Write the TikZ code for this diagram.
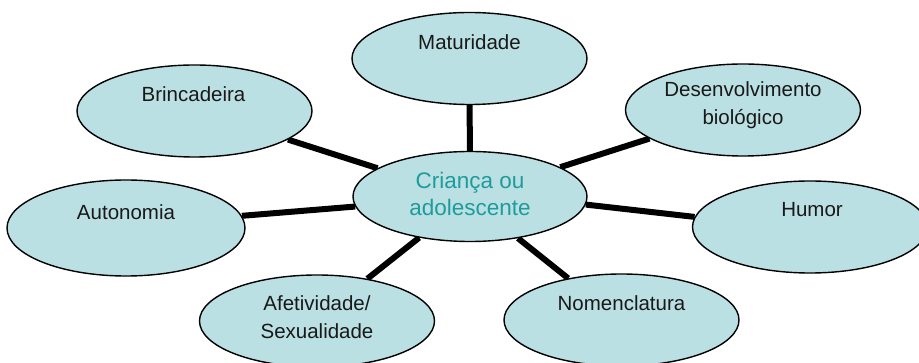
\documentclass[tikz,border=0pt]{standalone}
\usepackage{fontspec}
\setmainfont{Liberation Sans}
\usetikzlibrary{shapes.geometric,backgrounds}
\definecolor{bubble}{RGB}{187,224,227}
\definecolor{tealtext}{RGB}{30,155,155}
\definecolor{ink}{RGB}{25,25,25}
\begin{document}
\begin{tikzpicture}[x=1pt,y=-1pt,
  bub/.style={ellipse,draw=black,line width=1.4pt,fill=bubble,minimum width=235pt,minimum height=92pt,inner sep=0pt},
  lbl/.style={font=\fontsize{20.5}{28}\selectfont,text=ink,align=center,inner sep=0pt},
  link/.style={line width=6pt,draw=black}]
\useasboundingbox (0,0) rectangle (919,363);
\clip (0,0) rectangle (919,363);
% bubbles
\node[bub,minimum width=234pt,minimum height=90pt] (c) at (470,196.5) {};
\node[bub] (mat) at (469.5,58.5) {};
\node[bub] (des) at (743,110) {};
\node[bub] (bri) at (194.5,111) {};
\node[bub,minimum width=238pt,minimum height=96pt] (aut) at (126,228) {};
\node[bub] (hum) at (810,227) {};
\node[bub] (afe) at (317,321) {};
\node[bub] (nom) at (621.5,320) {};
% labels
\node[lbl,text=tealtext,font=\fontsize{22.5}{27}\selectfont] (tc) at ([yshift=3pt]c.center) {Criança ou\\adolescente};
\node[lbl] (tmat) at ([yshift=16pt]mat.center) {Maturidade};
\node[lbl] (tdes) at ([yshift=5pt]des.center) {Desenvolvimento\\biológico};
\node[lbl] (tbri) at ([yshift=17pt,xshift=-1pt]bri.center) {Brincadeira};
\node[lbl] (taut) at ([yshift=16pt]aut.center) {Autonomia};
\node[lbl] (thum) at ([yshift=17pt,xshift=2pt]hum.center) {Humor};
\node[lbl] (tafe) at ([yshift=4pt]afe.center) {Afetividade/\\Sexualidade};
\node[lbl] (tnom) at ([yshift=17pt]nom.center) {Nomenclatura};
% connectors
\begin{scope}[on background layer]
\draw[link] (mat.center) -- (c.center);
\draw[link] (bri.-17) -- (c.163);
\draw[link] (aut.6) -- (c.185);
\draw[link] (afe.40) -- (c.219);
\draw[link] (nom.142) -- (c.-41);
\draw[link] (hum.175) -- (c.-4);
\draw[link] (des.197) -- (c.18);
\end{scope}
\end{tikzpicture}
\end{document}
